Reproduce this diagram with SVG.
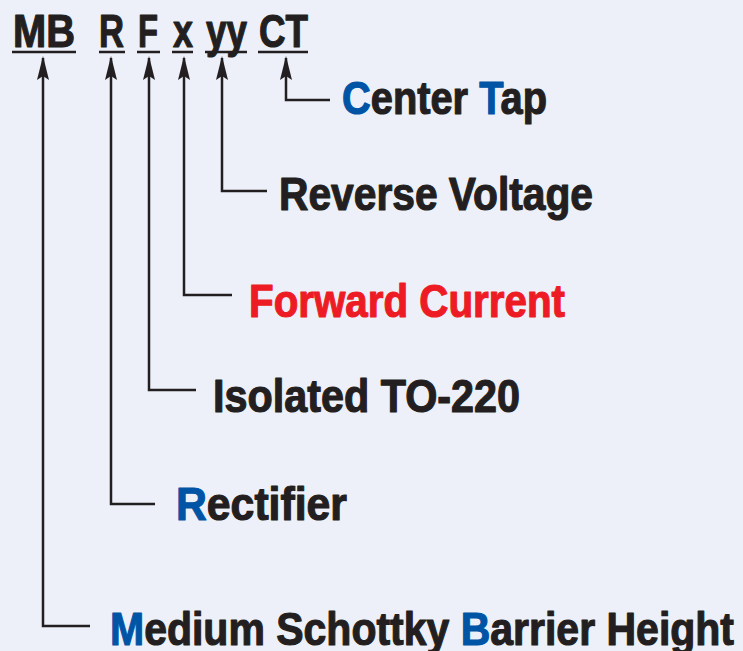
<svg xmlns="http://www.w3.org/2000/svg" width="743" height="651" viewBox="0 0 743 651">
<style>
text{font-family:"Liberation Sans Narrow","Liberation Sans",Arial,sans-serif;font-weight:bold;fill:#231f20;stroke:#231f20;stroke-width:1.2;stroke-linejoin:round}
.top{font-size:46px}
.lbl{font-size:47px}
.blue{fill:#0054a6;stroke:#0054a6}
.red{fill:#ed1c24;stroke:#ed1c24}
.ul{stroke:#231f20;stroke-width:2.5}
.conn{fill:none;stroke:#231f20;stroke-width:2.5}
</style>
<defs>
<marker id="ah" viewBox="0 0 24 12" refX="22" refY="6" markerWidth="24" markerHeight="12" markerUnits="userSpaceOnUse" orient="auto">
<path d="M0,0 L24,6 L0,12 L4,6 Z" fill="#231f20"/>
</marker>
</defs>
<rect width="743" height="651" fill="#edf0f8"/>
<g id="code">
<g id="code-MB"><text class="top" x="13" y="47" textLength="62" lengthAdjust="spacingAndGlyphs">MB</text><line class="ul" x1="12" y1="52" x2="76" y2="52"/></g>
<g id="code-R"><text class="top" x="99" y="47" textLength="25" lengthAdjust="spacingAndGlyphs">R</text><line class="ul" x1="99" y1="52" x2="125" y2="52"/></g>
<g id="code-F"><text class="top" x="138" y="47" textLength="20" lengthAdjust="spacingAndGlyphs">F</text><line class="ul" x1="137" y1="52" x2="160" y2="52"/></g>
<g id="code-x"><text class="top" x="173" y="47" textLength="20" lengthAdjust="spacingAndGlyphs">x</text><line class="ul" x1="172" y1="52" x2="193" y2="52"/></g>
<g id="code-yy"><text class="top" x="206" y="47" textLength="41" lengthAdjust="spacingAndGlyphs">yy</text><line class="ul" x1="205" y1="52" x2="247" y2="52"/></g>
<g id="code-CT"><text class="top" x="259" y="47" textLength="49" lengthAdjust="spacingAndGlyphs">CT</text><line class="ul" x1="258" y1="52" x2="308" y2="52"/></g>
</g>
<g id="connectors">
<path class="conn" d="M330,100 H286 V58" marker-end="url(#ah)"/>
<path class="conn" d="M267,191 H222 V58" marker-end="url(#ah)"/>
<path class="conn" d="M232,295 H184 V58" marker-end="url(#ah)"/>
<path class="conn" d="M196,390 H149 V58" marker-end="url(#ah)"/>
<path class="conn" d="M155,504 H111 V58" marker-end="url(#ah)"/>
<path class="conn" d="M90,626 H43 V58" marker-end="url(#ah)"/>
</g>
<g id="label-center-tap"><text class="lbl" x="342" y="114" textLength="205" lengthAdjust="spacingAndGlyphs"><tspan class="blue">C</tspan>enter <tspan class="blue">T</tspan>ap</text></g>
<g id="label-reverse-voltage"><text class="lbl" x="279" y="210" textLength="314" lengthAdjust="spacingAndGlyphs">Reverse Voltage</text></g>
<g id="label-forward-current"><text class="lbl red" x="249" y="317" textLength="316" lengthAdjust="spacingAndGlyphs">Forward Current</text></g>
<g id="label-isolated"><text class="lbl" x="213" y="412" textLength="307" lengthAdjust="spacingAndGlyphs">Isolated TO-220</text></g>
<g id="label-rectifier"><text class="lbl" x="176" y="520" textLength="171" lengthAdjust="spacingAndGlyphs"><tspan class="blue">R</tspan>ectifier</text></g>
<g id="label-msbh"><text class="lbl" x="110" y="645" textLength="624" lengthAdjust="spacingAndGlyphs"><tspan class="blue">M</tspan>edium Schottky <tspan class="blue">B</tspan>arrier Height</text></g>
</svg>
